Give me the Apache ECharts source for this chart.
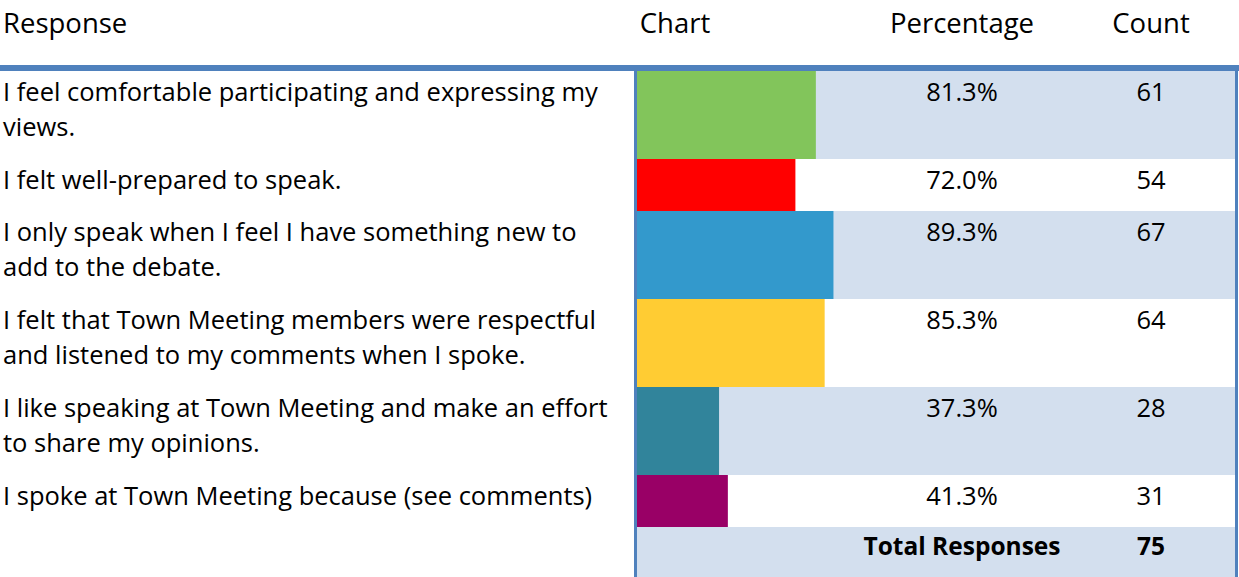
<!DOCTYPE html>
<html>
<head>
<meta charset="utf-8">
<title>Town Meeting survey</title>
<script src="https://cdn.jsdelivr.net/npm/echarts@6/dist/echarts.min.js"></script>
<style>
  html, body { margin: 0; padding: 0; background: #ffffff; }
  #chart { width: 1239px; height: 577px; }
</style>
</head>
<body>
<div id="chart"></div>
<script>
// data
const responses = [
  'I feel comfortable participating and expressing my\nviews.',
  'I felt well-prepared to speak.',
  'I only speak when I feel I have something new to\nadd to the debate.',
  'I felt that Town Meeting members were respectful\nand listened to my comments when I spoke.',
  'I like speaking at Town Meeting and make an effort\nto share my opinions.',
  'I spoke at Town Meeting because (see comments)'
]
const percentages = [81.3, 72.0, 89.3, 85.3, 37.3, 41.3]
const counts = [61, 54, 67, 64, 28, 31]
const totalResponses = 75
const headers = ['Response', 'Chart', 'Percentage', 'Count']

// styles
const barColors = ['#82c55b', '#ff0000', '#3399cc', '#ffcc33', '#31849b', '#990066']
const lightBg = '#d3dfee'
const borderBlue = '#4f81bd'
const font = 'Open Sans'
const fontSize = 25.5

// layout
const textLeft = 3
const tableTop = 71
const chartLeft = 637
const chartRight = 1235
const pxPerPercent = 2.2
const pctCenter = 962
const countCenter = 1151
const pctColWidth = 190

const rowHeights = responses.map((r) => (r.split('\n').length === 2 ? 88 : 52))
const rowTops = []
let cursor = tableTop
rowHeights.forEach((h) => {
  rowTops.push(cursor)
  cursor += h
})
const totalTop = cursor
const totalHeight = 577 - totalTop

const textStyle = { color: '#000', fontFamily: font, fontSize: fontSize, lineHeight: 35 }

const grid = []
const xAxis = []
const yAxis = []
const series = []

responses.forEach((text, i) => {
  grid.push({
    left: chartLeft,
    top: rowTops[i],
    width: 100 * pxPerPercent,
    height: rowHeights[i],
    containLabel: false,
    outerBoundsMode: 'none'
  })
  xAxis.push({ gridIndex: i, type: 'value', min: 0, max: 100, show: false })
  yAxis.push({ gridIndex: i, type: 'category', data: [text], show: false })

  // response text, percentage and count all go in one rich label
  const lines = text.split('\n')
  const labelText = lines
    .map((line, k) => {
      let s = `{r|${line}}`
      if (k === 0) s += `{p|${percentages[i].toFixed(1)}%}{c|${counts[i]}}`
      return s
    })
    .join('\n')

  series.push({
    type: 'bar',
    name: text,
    xAxisIndex: i,
    yAxisIndex: i,
    data: [percentages[i]],
    barWidth: '100%',
    silent: true,
    itemStyle: { color: barColors[i] },
    label: {
      show: true,
      position: [textLeft - chartLeft, 2],
      formatter: () => labelText,
      rich: {
        r: { ...textStyle, width: pctCenter - pctColWidth / 2 - textLeft, align: 'left' },
        p: { ...textStyle, width: pctColWidth, align: 'center' },
        c: { ...textStyle, width: 2 * (countCenter - pctCenter - pctColWidth / 2), align: 'center' }
      }
    }
  })
})

const graphic = []
// light row shading
rowTops.forEach((t, i) => {
  if (i % 2 === 0) {
    graphic.push({
      type: 'rect',
      z: -10,
      shape: { x: chartLeft, y: t, width: chartRight - chartLeft, height: rowHeights[i] },
      style: { fill: lightBg }
    })
  }
})
graphic.push({
  type: 'rect',
  z: -10,
  shape: { x: chartLeft, y: totalTop, width: chartRight - chartLeft, height: totalHeight },
  style: { fill: lightBg }
})
// borders
graphic.push(
  { type: 'rect', z: 100, shape: { x: 0, y: 65, width: 1239, height: 6 }, style: { fill: borderBlue } },
  { type: 'rect', z: 100, shape: { x: chartLeft - 3, y: 71, width: 3, height: 506 }, style: { fill: borderBlue } },
  { type: 'rect', z: 100, shape: { x: chartRight, y: 71, width: 3, height: 506 }, style: { fill: borderBlue } }
)
// headers
const headerX = [textLeft, 675, pctCenter, countCenter]
headers.forEach((h, i) => {
  graphic.push({
    type: 'text',
    z: 100,
    style: {
      text: h,
      x: headerX[i],
      y: 22,
      fill: '#000',
      fontFamily: font,
      fontSize: 27.5,
      align: i === 0 ? 'left' : 'center',
      verticalAlign: 'middle'
    }
  })
})
// total row
graphic.push(
  {
    type: 'text',
    z: 100,
    style: { text: 'Total Responses', x: pctCenter, y: totalTop + 18, fill: '#000', fontFamily: font, fontWeight: 'bold', fontSize: 24.5, align: 'center', verticalAlign: 'middle' }
  },
  {
    type: 'text',
    z: 100,
    style: { text: String(totalResponses), x: countCenter, y: totalTop + 18, fill: '#000', fontFamily: font, fontWeight: 'bold', fontSize: 24.5, align: 'center', verticalAlign: 'middle' }
  }
)

const myChart = echarts.init(document.getElementById('chart'), null, { renderer: 'svg' })
myChart.setOption({
  animation: false,
  backgroundColor: '#ffffff',
  grid: grid,
  xAxis: xAxis,
  yAxis: yAxis,
  series: series,
  graphic: graphic
})
</script>
</body>
</html>
